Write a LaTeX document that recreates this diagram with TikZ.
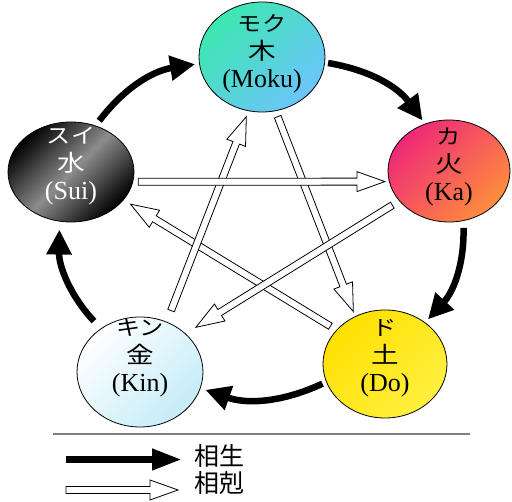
\documentclass[tikz,border=0pt]{standalone}
\usepackage{fontspec}
\usepackage{graphicx}
\setmainfont{Liberation Serif}
\newfontfamily\jp{Noto Sans CJK JP}
\usetikzlibrary{shapes.geometric,arrows.meta,calc}
\definecolor{mokuA}{HTML}{3CE8B0}
\definecolor{mokuB}{HTML}{6CC4FA}
\definecolor{kaA}{HTML}{EE2878}
\definecolor{kaB}{HTML}{FF8E3C}
\definecolor{kinA}{HTML}{FFFFFF}
\definecolor{kinB}{HTML}{C4ECF8}
\definecolor{doA}{HTML}{FFE000}
\definecolor{doB}{HTML}{FFF040}
\newcommand\jt[1]{{\jp\fontsize{21}{28}\selectfont\scalebox{1.15}[1]{#1}}}
\newcommand\jk[1]{{\jp\fontsize{23}{28}\selectfont\scalebox{1.2}[1]{#1}}}
\newcommand\koku[4]{%
  \coordinate (kS) at ($(#1)!#3!(#2)$);
  \coordinate (kE) at ($(#2)!#4!(#1)$);
  \coordinate (kH) at ($(kE)!28pt!(kS)$);
  \filldraw[kokustyle] ($(kS)!3.5pt!90:(kE)$) -- ($(kH)!3.5pt!90:(kE)$) -- ($(kH)!10pt!90:(kE)$) -- (kE) -- ($(kH)!10pt!-90:(kE)$) -- ($(kH)!3.5pt!-90:(kE)$) -- ($(kS)!3.5pt!-90:(kE)$) -- cycle;
}
\begin{document}
\begin{tikzpicture}[x=1pt,y=1pt,
  elem/.style={ellipse, draw=black, line width=0.8pt, inner sep=0pt},
  lbl/.style={align=center, font=\fontsize{26}{28}\selectfont, inner sep=0pt},
  sheng/.style={line width=6.5pt, -{Triangle[length=25pt,width=24pt]}},
  kokustyle/.style={draw=black, fill=white, line width=0.8pt, line join=miter}
]
\useasboundingbox (0,0) rectangle (512,502);

% elements
\node[elem, minimum width=126pt, minimum height=110pt, top color=mokuA, bottom color=mokuB, shading angle=45] (moku) at (262,445) {};
\node[elem, minimum width=122pt, minimum height=102pt, top color=kaA, bottom color=kaB, shading angle=45] (ka) at (449,331) {};
\node[elem, minimum width=124pt, minimum height=108pt, top color=doA, bottom color=doB, shading angle=45] (do) at (385,138) {};
\node[elem, minimum width=126pt, minimum height=110pt, top color=kinA, bottom color=kinB, shading angle=45] (kin) at (140,130) {};
\node[elem, minimum width=126pt, minimum height=100pt, top color=black, bottom color=black, middle color=black!45, shading angle=45] (sui) at (71,330) {};

\node[lbl] (mokut) at ($(moku)+(0,3)$) {\jt{モク}\\\jk{木}\\(Moku)};
\node[lbl] (kat) at ($(ka)+(0,4)$) {\jt{カ}\\\jk{火}\\(Ka)};
\node[lbl] (dot) at ($(do)+(0,6)$) {\jt{ド}\\\jk{土}\\(Do)};
\node[lbl] (kint) at ($(kin)+(0,14)$) {\jt{キン}\\\jk{金}\\(Kin)};
\node[lbl, text=white] (suit) at ($(sui)+(0,6)$) {\jt{スイ}\\\jk{水}\\(Sui)};

% generating cycle
\draw[sheng, shorten <=6pt, shorten >=4pt] (sui.62) to[bend left=22] (moku.186);
\draw[sheng, shorten <=3pt, shorten >=4pt] (moku.-5) to[bend left=22] (ka.117);
\draw[sheng, shorten <=7pt, shorten >=4pt] (ka.-74) to[bend left=22] (do.46);
\draw[sheng, shorten <=4pt, shorten >=5pt] (do.-163) to[bend left=22] (kin.-15);
\draw[sheng, shorten <=10pt, shorten >=8pt] (kin.132) to[bend left=22] (sui.-103);

% overcoming cycle
\koku{moku.-76}{do.122}{6pt}{5pt}
\koku{do.145}{sui.-28}{7pt}{8pt}
\koku{ka.-149}{kin.40}{8pt}{12pt}
\koku{kin.62}{moku.-104}{12pt}{6pt}
\koku{sui.-9}{ka.190}{5pt}{4pt}

% legend
\coordinate (r1) at (53,68);
\coordinate (r2) at (470,68);
\draw[line width=1.5pt, color=black!50] (r1) -- (r2);
\coordinate (lb1) at (66,42.5);
\coordinate (lb2) at (182,42.5);
\draw[line width=7pt, -{Triangle[length=30pt,width=20pt]}] (lb1) -- (lb2);
\coordinate (lw1) at (66,12);
\coordinate (lw2) at (178,12);
\koku{lw1}{lw2}{0pt}{0pt}
\node[font=\jp\fontsize{25}{25}\selectfont, anchor=west, inner sep=0pt] (l1) at (194,46) {相生};
\node[font=\jp\fontsize{25}{25}\selectfont, anchor=west, inner sep=0pt] (l2) at (194,18.5) {相剋};
\end{tikzpicture}
\end{document}
